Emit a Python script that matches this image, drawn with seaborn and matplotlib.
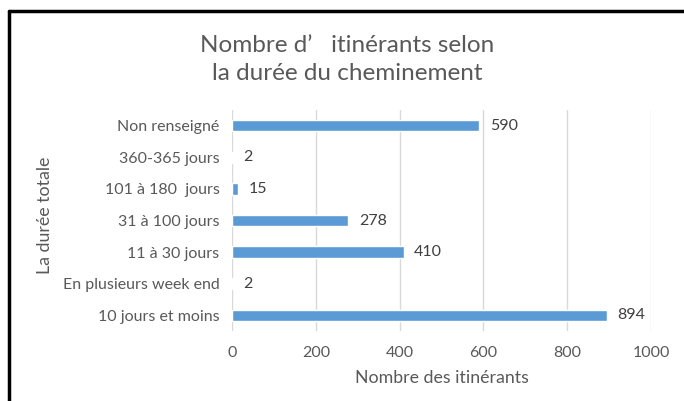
import matplotlib
matplotlib.use("Agg")
import matplotlib.pyplot as plt
import seaborn as sns
import pandas as pd
from matplotlib.lines import Line2D

categories = ["Non renseigné", "360-365 jours", "101 à 180  jours", "31 à 100 jours",
              "11 à 30 jours", "En plusieurs week end", "10 jours et moins"]
values = [590, 2, 15, 278, 410, 2, 894]
xticks = [0, 200, 400, 600, 800, 1000]

df = pd.DataFrame({"cat": categories, "val": values})

sns.set_theme(style="white")
plt.rcParams['font.family'] = ['Lato', 'DejaVu Sans']

fig = plt.figure(figsize=(6.84, 4.01), dpi=100)
ax = fig.add_axes([232/684, 1-331/401, (651-232)/684, (331-110)/401])

sns.barplot(data=df, x="val", y="cat", order=categories, color="#5B9BD5",
            width=0.36, ax=ax, orient="h", saturation=1)

ax.set_xlim(0, 1000)
ax.set_xticks(xticks)
ax.set_xticklabels([str(t) for t in xticks])
ax.grid(axis="x", color="#D9D9D9", linewidth=1)
ax.set_axisbelow(True)
for s in ax.spines.values():
    s.set_visible(False)
ax.tick_params(axis="both", length=0, colors="#595959", labelsize=11.5)
ax.tick_params(axis="x", pad=11)
ax.tick_params(axis="y", pad=9)

for i, v in enumerate(values):
    ax.text(v + 25, i, str(v), va="center", ha="left", color="#404040", fontsize=11.5)

ax.set_xlabel("Nombre des itinérants", color="#595959", fontsize=12.8, labelpad=7)
ax.set_ylabel("")
fig.text(45/684, 1-215/401, "La durée totale", rotation=90, va="center", ha="center",
         color="#595959", fontsize=12.8)

fig.text(347/684, 1-45/401, "Nombre d’   itinérants selon", ha="center", va="center",
         color="#595959", fontsize=17.5)
fig.text(347/684, 1-73/401, "la durée du cheminement", ha="center", va="center",
         color="#595959", fontsize=17.5)

# frame lines (top and left)
fig.add_artist(Line2D([9/684, 1], [1-11/401, 1-11/401], color="black", linewidth=2.5,
                      transform=fig.transFigure))
fig.add_artist(Line2D([9/684, 9/684], [0, 1-11/401], color="black", linewidth=2.5,
                      transform=fig.transFigure))

fig.savefig("out.png", dpi=100)
